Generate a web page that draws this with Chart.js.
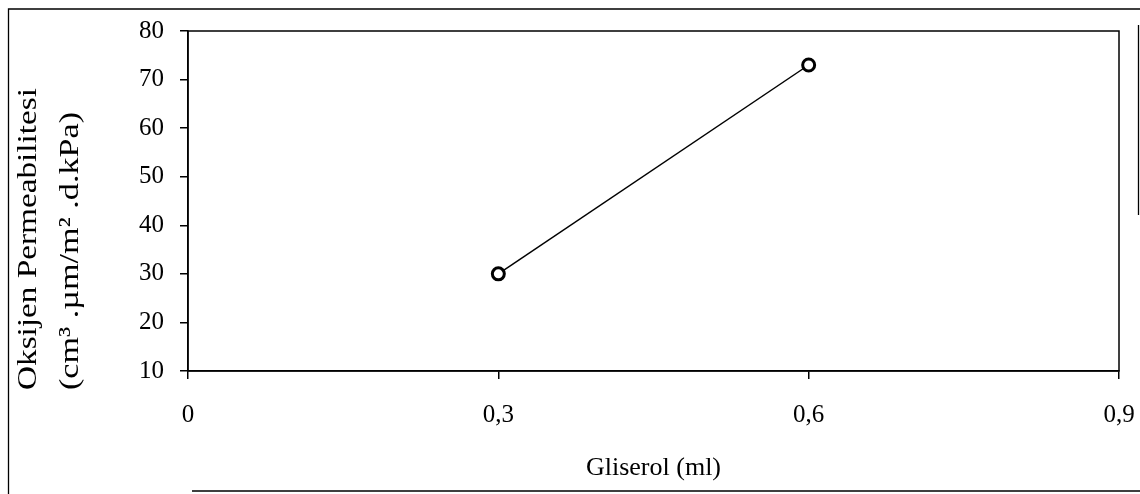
<!DOCTYPE html>
<html>
<head>
<meta charset="utf-8">
<script src="https://cdn.jsdelivr.net/npm/chart.js@4/dist/chart.umd.min.js"></script>
<style>
  html, body { margin: 0; padding: 0; background: #fff; }
  #wrap { width: 1140px; height: 494px; }
</style>
</head>
<body>
<div id="wrap"><canvas id="chart" width="1140" height="494"></canvas></div>
<script>
// values
const glycerolMl = [0.3, 0.6];
const oxygenPermeability = [30, 73];
const xTickValues = [0, 0.3, 0.6, 0.9];
const yTickValues = [10, 20, 30, 40, 50, 60, 70, 80];
const xTitle = 'Gliserol (ml)';
const yTitleLines = ['Oksijen Permeabilitesi', '(cm³ .µm/m² .d.kPa)'];

const serif = "'Liberation Serif', 'Times New Roman', serif";

// plot box + outer figure frame + rotated y title
const framePlugin = {
    id: 'frames',
    afterDraw(chart) {
        const { ctx, chartArea: a } = chart;
        ctx.save();
        ctx.strokeStyle = '#000';
        ctx.lineWidth = 1.5;
        ctx.strokeRect(a.left, a.top, a.right - a.left, a.bottom - a.top);

        ctx.lineWidth = 1.3;
        ctx.beginPath();
        ctx.moveTo(8.5, 494);
        ctx.lineTo(8.5, 9);
        ctx.lineTo(1140, 9);
        ctx.moveTo(192, 491);
        ctx.lineTo(1140, 491);
        ctx.moveTo(1138.5, 25);
        ctx.lineTo(1138.5, 215);
        ctx.stroke();

        // y title, two lines, start-aligned near the bottom
        ctx.fillStyle = '#000';
        ctx.font = '28px ' + serif;
        ctx.textBaseline = 'middle';
        ctx.textAlign = 'left';
        const lines = [
            { text: yTitleLines[0], x: 29, len: 302 },
            { text: yTitleLines[1], x: 71, len: 278 }
        ];
        lines.forEach(l => {
            const w = ctx.measureText(l.text).width;
            ctx.save();
            ctx.translate(l.x, 390);
            ctx.rotate(-Math.PI / 2);
            ctx.scale(l.len / w, 1);
            ctx.fillText(l.text, 0, 0);
            ctx.restore();
        });
        ctx.restore();
    }
};

const ctx = document.getElementById('chart');

new Chart(ctx, {
    type: 'line',
    data: {
        datasets: [{
            data: glycerolMl.map((x, i) => ({ x: x, y: oxygenPermeability[i] })),
            borderColor: '#000',
            borderWidth: 1.5,
            pointRadius: 6,
            pointBorderWidth: 3,
            pointBackgroundColor: '#fff',
            pointBorderColor: '#000',
            fill: false,
            tension: 0
        }]
    },
    options: {
        responsive: false,
        animation: false,
        layout: {
            autoPadding: false,
            padding: { top: 31, right: 21, left: 0, bottom: 0 }
        },
        plugins: {
            legend: { display: false },
            tooltip: { enabled: false }
        },
        scales: {
            x: {
                type: 'linear',
                min: 0,
                max: 0.9,
                afterBuildTicks: s => { s.ticks = xTickValues.map(v => ({ value: v })); },
                afterFit: s => {
                    s.height = 123;
                    s.paddingLeft = 0;
                    s.paddingRight = 0;
                },
                ticks: {
                    color: '#000',
                    font: { family: serif, size: 25 },
                    padding: 21,
                    maxRotation: 0,
                    callback: v => v === 0 ? '0' : v.toFixed(1).replace('.', ',')
                },
                grid: { drawOnChartArea: false, drawTicks: true, tickLength: 8, color: '#000', lineWidth: 1.5 },
                border: { display: true, color: '#000', width: 1.5 },
                title: {
                    display: true,
                    text: xTitle,
                    color: '#000',
                    font: { family: serif, size: 26 },
                    padding: { top: 0, bottom: 10 }
                }
            },
            y: {
                min: 10,
                max: 80,
                afterBuildTicks: s => { s.ticks = yTickValues.map(v => ({ value: v })); },
                afterFit: s => { s.width = 188; },
                ticks: {
                    color: '#000',
                    font: { family: serif, size: 25 },
                    padding: 16
                },
                grid: { drawOnChartArea: false, drawTicks: true, tickLength: 8, color: '#000', lineWidth: 1.5 },
                border: { display: true, color: '#000', width: 1.5 }
            }
        }
    },
    plugins: [framePlugin]
});
</script>
</body>
</html>
